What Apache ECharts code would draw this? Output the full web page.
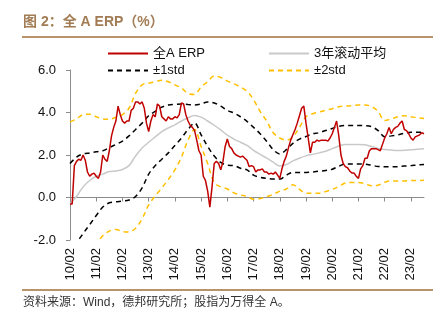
<!DOCTYPE html>
<html><head><meta charset="utf-8">
<script src="https://cdn.jsdelivr.net/npm/echarts@6/dist/echarts.min.js"></script>
<style>html,body{margin:0;padding:0;background:#fff;}#c{width:441px;height:325px;}</style>
</head><body><div id="c"></div>
<script>
// x axis: months since 2010-02
const xTickMonths = [0,12,24,36,48,60,72,84,96,108,120,132,144,156];
const xTickLabels = ['10/02','11/02','12/02','13/02','14/02','15/02','16/02','17/02','18/02','19/02','20/02','21/02','22/02','23/02'];

// 全A ERP, monthly from 2010-02
const erpValues = [
  -0.3,-0.3,1.5,1.7,1.8,1.75,2.0,1.75,1.2,1.0,1.1,1.15,
  1.0,0.9,1.2,2.0,1.8,1.7,2.2,2.9,3.3,3.6,4.3,3.9,
  3.6,3.5,3.6,3.6,4.1,4.2,4.5,4.5,4.4,4.5,4.2,3.5,
  3.1,3.6,3.9,3.8,4.4,4.3,3.8,3.7,3.6,3.8,3.7,3.7,
  3.8,3.75,3.9,4.45,4.4,3.9,3.6,3.4,3.3,3.15,2.7,2.2,
  2.0,1.0,0.8,0.3,-0.45,0.5,1.6,1.7,1.6,1.3,1.7,2.4,
  2.75,2.4,2.3,2.1,2.0,1.95,1.9,1.95,1.85,1.75,1.45,1.5,
  1.45,1.2,1.3,1.3,1.35,1.2,1.2,1.1,1.15,1.1,1.2,1.05,
  0.9,1.35,1.7,1.95,2.35,2.7,2.95,3.2,3.5,3.85,4.2,4.3,
  3.5,2.8,2.1,2.6,2.6,2.7,2.65,2.7,2.7,2.7,2.65,2.8,
  3.0,3.3,3.6,2.9,2.0,1.6,1.45,1.4,1.25,1.15,1.15,1.0,
  0.9,1.35,1.5,1.85,1.85,2.2,2.3,2.3,2.3,2.25,2.2,2.5,
  2.8,3.0,3.3,3.0,3.2,3.3,3.35,3.5,3.6,3.2,3.15,3.0,
  2.8,2.7,2.85,2.9,2.95,3.05,3.0
];

// bands sampled every 3 months from 2010-02
const bandMonths = [];
for (let m = 0; m <= 162; m += 3) bandMonths.push(m);
const rollMean = [-0.3,0.05,0.5,0.8,1.0,1.1,1.22,1.25,1.32,1.5,1.95,2.33,2.6,2.85,3.1,3.27,3.42,3.6,3.75,3.86,3.78,3.6,3.4,3.18,2.93,2.75,2.6,2.45,2.22,2.03,1.85,1.66,1.48,1.55,1.72,1.85,1.96,2.03,2.1,2.18,2.3,2.42,2.5,2.5,2.5,2.48,2.4,2.31,2.26,2.23,2.21,2.22,2.25,2.27,2.29];
const plus1Std = [1.6,1.9,2.05,2.1,2.15,2.2,2.35,2.5,2.65,2.9,3.2,3.5,3.85,4.05,4.25,4.35,4.38,4.4,4.38,4.35,4.4,4.5,4.45,4.3,4.1,3.98,3.8,3.58,3.3,3.0,2.65,2.25,2.05,2.25,2.55,2.75,2.87,3.0,3.05,3.15,3.25,3.35,3.39,3.39,3.39,3.38,3.33,3.15,2.86,2.9,2.95,3.02,3.07,3.07,3.07];
const minus1Std = [-4.0,-2.2,-1.7,-1.28,-0.85,-0.45,-0.25,-0.2,-0.17,-0.12,0.05,0.45,1.1,1.5,1.8,2.1,2.45,2.8,3.2,3.5,2.95,2.4,1.95,1.65,1.52,1.5,1.38,1.3,1.05,0.95,0.9,0.87,0.87,1.05,1.18,1.18,1.18,1.2,1.24,1.27,1.33,1.47,1.58,1.58,1.58,1.57,1.52,1.46,1.45,1.45,1.45,1.48,1.5,1.53,1.55];
const plus2Std = [3.55,3.7,3.9,3.92,3.8,3.7,3.68,3.78,3.9,4.2,4.9,5.3,5.38,5.45,5.52,5.45,5.3,5.15,4.9,4.85,5.2,5.45,5.72,5.65,5.48,5.35,5.2,5.0,4.6,4.05,3.6,3.05,2.8,2.7,2.85,3.3,3.8,3.94,4.02,4.1,4.18,4.27,4.3,4.32,4.35,4.35,4.28,4.05,3.62,3.7,3.8,3.85,3.8,3.75,3.72];
const minus2Std = [-5.0,-4.0,-3.2,-2.7,-2.2,-1.8,-1.58,-1.5,-1.6,-1.62,-1.45,-1.0,-0.35,0.08,0.45,0.85,1.3,1.9,2.7,3.2,2.4,1.6,0.7,0.5,0.4,0.22,0.12,0.05,-0.08,-0.05,0.04,0.15,0.3,0.4,0.6,0.38,0.2,0.2,0.2,0.28,0.38,0.52,0.68,0.71,0.71,0.65,0.55,0.58,0.72,0.78,0.78,0.78,0.8,0.8,0.81];

const FONT = '"Liberation Sans", Arial, "Noto Sans CJK SC", sans-serif';
const pair = (xs, ys) => ys.map((v, i) => [xs[i], v]);
const erpData = erpValues.map((v, i) => [i, v]);

const chart = echarts.init(document.getElementById('c'), null, {renderer: 'canvas'});
const legendBase = (name, left, top) => ({
  data: [name], left, top, padding: 0, itemWidth: 40, itemHeight: 12, itemGap: 5,
  selectedMode: false,
  itemStyle: {opacity: 0},
  textStyle: {fontFamily: FONT, fontSize: 13, color: '#111'}
});
const bandSeries = (name, data, color) => ({
  name, type: 'line', data, symbol: 'none', smooth: 0.35, clip: true,
  lineStyle: {color, width: 1.5, type: [5, 4]}, itemStyle: {color}, z: 3
});

chart.setOption({
  animation: false,
  backgroundColor: '#fff',
  textStyle: {fontFamily: FONT},
  grid: {left: 70, right: 17, top: 70, bottom: 85, containLabel: false},
  legend: [
    legendBase('全A ERP', 107, 47),
    legendBase('3年滚动平均', 268, 47),
    legendBase('±1std', 107, 64),
    legendBase('±2std', 268, 64)
  ],
  xAxis: {
    type: 'value', min: 0, max: 162,
    axisLine: {onZero: true, lineStyle: {color: '#8c8c8c', width: 1}},
    axisTick: {show: true, length: 4, customValues: xTickMonths, lineStyle: {color: '#8c8c8c'}},
    axisLabel: {
      customValues: xTickMonths, rotate: 90, margin: 8, fontSize: 13, color: '#111', fontFamily: FONT,
      formatter: v => xTickLabels[xTickMonths.indexOf(Math.round(v))] || ''
    },
    splitLine: {show: false}
  },
  yAxis: {
    type: 'value', min: -2, max: 6, interval: 2,
    axisLine: {show: true, lineStyle: {color: '#8c8c8c', width: 1}},
    axisTick: {show: true, length: 4, lineStyle: {color: '#8c8c8c'}},
    axisLabel: {margin: 14, fontSize: 13, color: '#111', fontFamily: FONT, formatter: v => v.toFixed(1)},
    splitLine: {show: false}
  },
  graphic: [
    {type: 'text', left: 23, top: 15, style: {text: '图 2：全 A ERP（%）', font: 'bold 14px ' + FONT, fill: '#a27c54'}},
    {type: 'rect', shape: {x: 22, y: 36, width: 411, height: 2}, style: {fill: '#b9936c'}},
    {type: 'rect', shape: {x: 22, y: 289, width: 411, height: 2}, style: {fill: '#b9936c'}},
    {type: 'text', left: 23, top: 297, style: {text: '资料来源：Wind，德邦研究所；股指为万得全 A。', font: '12px ' + FONT, fill: '#333'}}
  ],
  series: [
    {name: '3年滚动平均', type: 'line', data: pair(bandMonths, rollMean), symbol: 'none', smooth: 0.35,
     lineStyle: {color: '#c9c9c9', width: 1.5}, itemStyle: {color: '#c9c9c9'}, z: 2},
    bandSeries('±2std', pair(bandMonths, plus2Std), '#ffc000'),
    bandSeries('±2std', pair(bandMonths, minus2Std), '#ffc000'),
    bandSeries('±1std', pair(bandMonths, plus1Std), '#000000'),
    bandSeries('±1std', pair(bandMonths, minus1Std), '#000000'),
    {name: '全A ERP', type: 'line', data: erpData, symbol: 'none',
     lineStyle: {color: '#c00000', width: 1.5}, itemStyle: {color: '#c00000'}, z: 5}
  ]
});
</script>
</body></html>
